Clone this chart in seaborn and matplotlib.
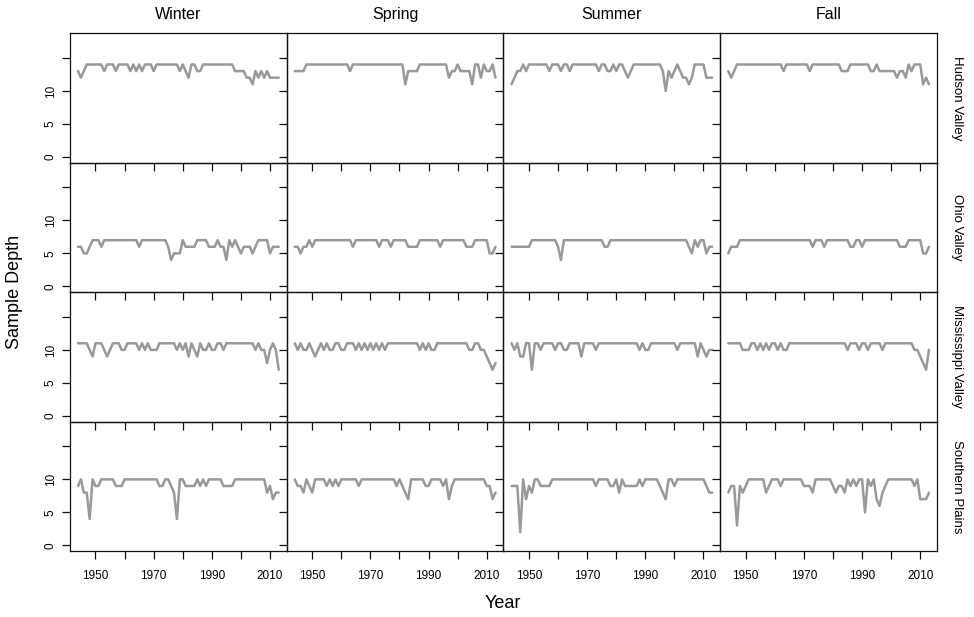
import numpy as np
import pandas as pd
import matplotlib
matplotlib.use("Agg")
import matplotlib.pyplot as plt
import seaborn as sns
from matplotlib import font_manager

# ---------------- data ----------------
years = list(range(1944, 2014))
seasons = ["Winter", "Spring", "Summer", "Fall"]
regions = ["Hudson Valley", "Ohio Valley", "Mississippi Valley", "Southern Plains"]

hv_winter = [13, 12, 13, 14, 14, 14,
             14, 14, 14, 13, 14, 14, 14, 13, 14, 14,
             14, 14, 13, 14, 13, 14, 13, 14, 14, 14,
             13, 14, 14, 14, 14, 14, 14, 14, 14, 13,
             14, 13, 12, 14, 14, 13, 13, 14, 14, 14,
             14, 14, 14, 14, 14, 14, 14, 14, 13, 13,
             13, 13, 12, 12, 11, 13, 12, 13, 12, 13,
             12, 12, 12, 12]
hv_spring = [13, 13, 13, 13, 14, 14,
             14, 14, 14, 14, 14, 14, 14, 14, 14, 14,
             14, 14, 14, 13, 14, 14, 14, 14, 14, 14,
             14, 14, 14, 14, 14, 14, 14, 14, 14, 14,
             14, 14, 11, 13, 13, 13, 13, 14, 14, 14,
             14, 14, 14, 14, 14, 14, 14, 12, 13, 13,
             14, 13, 13, 13, 13, 11, 14, 14, 12, 14,
             13, 13, 14, 12]
hv_summer = [11, 12, 13, 13, 14, 13,
             14, 14, 14, 14, 14, 14, 14, 13, 14, 14,
             14, 13, 14, 14, 13, 14, 14, 14, 14, 14,
             14, 14, 14, 14, 13, 14, 14, 13, 13, 14,
             13, 14, 14, 13, 12, 13, 14, 14, 14, 14,
             14, 14, 14, 14, 14, 14, 13, 10, 13, 12,
             13, 14, 13, 12, 12, 11, 12, 14, 14, 14,
             14, 12, 12, 12]
hv_fall = [13, 12, 13, 14, 14, 14,
           14, 14, 14, 14, 14, 14, 14, 14, 14, 14,
           14, 14, 14, 13, 14, 14, 14, 14, 14, 14,
           14, 14, 13, 14, 14, 14, 14, 14, 14, 14,
           14, 14, 14, 13, 13, 13, 14, 14, 14, 14,
           14, 14, 14, 13, 13, 14, 13, 13, 13, 13,
           13, 13, 12, 13, 13, 12, 14, 13, 14, 14,
           14, 11, 12, 11]

ov_winter = [6, 6, 5, 5, 6, 7,
             7, 7, 6, 7, 7, 7, 7, 7, 7, 7,
             7, 7, 7, 7, 7, 6, 7, 7, 7, 7,
             7, 7, 7, 7, 7, 6, 4, 5, 5, 5,
             7, 6, 6, 6, 6, 7, 7, 7, 7, 6,
             6, 6, 7, 6, 6, 4, 7, 6, 7, 6,
             5, 6, 6, 6, 5, 6, 7, 7, 7, 7,
             5, 6, 6, 6]
ov_spring = [6, 6, 5, 6, 6, 7,
             6, 7, 7, 7, 7, 7, 7, 7, 7, 7,
             7, 7, 7, 7, 6, 7, 7, 7, 7, 7,
             7, 7, 7, 6, 7, 7, 7, 6, 7, 7,
             7, 7, 7, 6, 6, 6, 6, 7, 7, 7,
             7, 7, 7, 7, 6, 7, 7, 7, 7, 7,
             7, 7, 7, 6, 6, 6, 7, 7, 7, 7,
             7, 5, 5, 6]
ov_summer = [6, 6, 6, 6, 6, 6,
             6, 7, 7, 7, 7, 7, 7, 7, 7, 7,
             6, 4, 7, 7, 7, 7, 7, 7, 7, 7,
             7, 7, 7, 7, 7, 7, 6, 6, 7, 7,
             7, 7, 7, 7, 7, 7, 7, 7, 7, 7,
             7, 7, 7, 7, 7, 7, 7, 7, 7, 7,
             7, 7, 7, 7, 7, 6, 5, 7, 6, 7,
             7, 5, 6, 6]
ov_fall = [5, 6, 6, 6, 7, 7,
           7, 7, 7, 7, 7, 7, 7, 7, 7, 7,
           7, 7, 7, 7, 7, 7, 7, 7, 7, 7,
           7, 7, 7, 6, 7, 7, 7, 6, 7, 7,
           7, 7, 7, 7, 7, 7, 6, 6, 7, 7,
           6, 7, 7, 7, 7, 7, 7, 7, 7, 7,
           7, 7, 7, 6, 6, 6, 7, 7, 7, 7,
           7, 5, 5, 6]

mv_winter = [11, 11, 11, 11, 10, 9,
             11, 11, 11, 10, 9, 10, 11, 11, 11, 10,
             10, 11, 11, 11, 11, 10, 11, 10, 11, 10,
             10, 10, 11, 11, 11, 11, 11, 11, 10, 11,
             10, 11, 9, 11, 10, 9, 11, 10, 10, 11,
             10, 10, 11, 11, 10, 11, 11, 11, 11, 11,
             11, 11, 11, 11, 11, 10, 11, 10, 10, 8,
             10, 11, 10, 7]
mv_spring = [11, 10, 11, 10, 10, 11,
             10, 9, 10, 11, 10, 11, 10, 10, 11, 11,
             10, 10, 11, 11, 11, 10, 11, 10, 11, 10,
             11, 10, 11, 10, 11, 10, 11, 11, 11, 11,
             11, 11, 11, 11, 11, 11, 11, 10, 11, 10,
             11, 10, 10, 11, 11, 11, 11, 11, 11, 11,
             11, 11, 11, 11, 10, 10, 11, 11, 10, 10,
             9, 8, 7, 8]
mv_summer = [11, 10, 11, 9, 9, 11,
             11, 7, 11, 11, 10, 11, 11, 11, 11, 10,
             11, 11, 10, 10, 11, 11, 11, 11, 9, 11,
             11, 11, 11, 10, 11, 11, 11, 11, 11, 11,
             11, 11, 11, 11, 11, 11, 11, 11, 10, 11,
             10, 10, 11, 11, 11, 11, 11, 11, 11, 11,
             11, 10, 11, 11, 11, 11, 11, 11, 9, 11,
             10, 9, 10, 10]
mv_fall = [11, 11, 11, 11, 11, 10,
           10, 10, 11, 11, 10, 11, 10, 11, 10, 11,
           11, 10, 11, 10, 10, 11, 11, 11, 11, 11,
           11, 11, 11, 11, 11, 11, 11, 11, 11, 11,
           11, 11, 11, 11, 11, 10, 11, 11, 11, 10,
           11, 11, 10, 11, 11, 11, 11, 10, 11, 11,
           11, 11, 11, 11, 11, 11, 11, 11, 10, 10,
           9, 8, 7, 10]

sp_winter = [9, 10, 8, 8, 4, 10,
             9, 9, 10, 10, 10, 10, 10, 9, 9, 9,
             10, 10, 10, 10, 10, 10, 10, 10, 10, 10,
             10, 10, 9, 9, 10, 10, 9, 8, 4, 10,
             10, 9, 9, 9, 9, 10, 9, 10, 9, 10,
             10, 10, 10, 10, 9, 9, 9, 9, 10, 10,
             10, 10, 10, 10, 10, 10, 10, 10, 10, 8,
             9, 7, 8, 8]
sp_spring = [10, 9, 9, 8, 10, 9,
             8, 10, 10, 10, 10, 9, 10, 9, 10, 9,
             10, 10, 10, 10, 10, 10, 9, 10, 10, 10,
             10, 10, 10, 10, 10, 10, 10, 10, 10, 9,
             10, 9, 8, 7, 10, 10, 10, 10, 10, 9,
             9, 10, 10, 10, 10, 9, 10, 7, 9, 10,
             10, 10, 10, 10, 10, 10, 10, 10, 10, 10,
             9, 9, 7, 8]
sp_summer = [9, 9, 9, 2, 10, 7,
             9, 8, 10, 10, 9, 9, 9, 9, 10, 10,
             10, 10, 10, 10, 10, 10, 10, 10, 10, 10,
             10, 10, 10, 9, 10, 10, 10, 10, 9, 9,
             10, 8, 10, 9, 9, 9, 9, 9, 10, 9,
             10, 10, 10, 10, 10, 9, 8, 7, 10, 10,
             9, 10, 10, 10, 10, 10, 10, 10, 10, 10,
             10, 9, 8, 8]
sp_fall = [8, 9, 9, 3, 9, 8,
           9, 10, 10, 10, 10, 10, 10, 8, 9, 10,
           10, 10, 9, 10, 10, 10, 10, 10, 10, 10,
           9, 9, 9, 8, 10, 10, 10, 10, 10, 10,
           9, 8, 9, 9, 8, 10, 9, 10, 9, 10,
           10, 5, 10, 9, 10, 7, 6, 8, 9, 10,
           10, 10, 10, 10, 10, 10, 10, 10, 9, 10,
           7, 7, 7, 8]

series = {
    ("Hudson Valley", "Winter"): hv_winter, ("Hudson Valley", "Spring"): hv_spring,
    ("Hudson Valley", "Summer"): hv_summer, ("Hudson Valley", "Fall"): hv_fall,
    ("Ohio Valley", "Winter"): ov_winter, ("Ohio Valley", "Spring"): ov_spring,
    ("Ohio Valley", "Summer"): ov_summer, ("Ohio Valley", "Fall"): ov_fall,
    ("Mississippi Valley", "Winter"): mv_winter, ("Mississippi Valley", "Spring"): mv_spring,
    ("Mississippi Valley", "Summer"): mv_summer, ("Mississippi Valley", "Fall"): mv_fall,
    ("Southern Plains", "Winter"): sp_winter, ("Southern Plains", "Spring"): sp_spring,
    ("Southern Plains", "Summer"): sp_summer, ("Southern Plains", "Fall"): sp_fall,
}

x_ticks = [1950, 1960, 1970, 1980, 1990, 2000, 2010]
x_ticklabels = ["1950", "", "1970", "", "1990", "", "2010"]
y_ticks = [0, 5, 10, 15]
y_ticklabels = ["0", "5", "10", ""]

rows = []
for (reg, sea), vals in series.items():
    assert len(vals) == len(years), (reg, sea, len(vals))
    for yr, v in zip(years, vals):
        rows.append({"Year": yr, "Depth": v, "Region": reg, "Season": sea})
df = pd.DataFrame(rows)

# ---------------- style ----------------
sns.set_style("ticks")
names = {f.name for f in font_manager.fontManager.ttflist}
base = "Liberation Sans" if "Liberation Sans" in names else "DejaVu Sans"
narrow = "Liberation Sans Narrow" if "Liberation Sans Narrow" in names else base
plt.rcParams["font.family"] = [base, "DejaVu Sans"]
plt.rcParams["text.color"] = "black"
plt.rcParams["axes.labelcolor"] = "black"
plt.rcParams["xtick.color"] = "black"
plt.rcParams["ytick.color"] = "black"

g = sns.relplot(data=df, x="Year", y="Depth", row="Region", col="Season",
                row_order=regions, col_order=seasons, kind="line",
                color="#999999", linewidth=1.8, height=1.5, aspect=1.6,
                facet_kws=dict(sharex=True, sharey=True, despine=False))
fig = g.figure
fig.set_size_inches(9.74, 6.17)
fig.subplots_adjust(left=70 / 974, right=937 / 974, top=1 - 33 / 617,
                    bottom=1 - 551 / 617, wspace=0, hspace=0)

g.set_titles("")
g.set_axis_labels("", "")
tick_font = dict(family=[narrow, base], size=8.5, color="black")
for i, reg in enumerate(regions):
    for j, sea in enumerate(seasons):
        ax = g.axes[i, j]
        ax.patch.set_visible(False)
        ax.set_xlim(1941.24, 2015.76)
        ax.set_ylim(-0.85, 18.77)
        for s in ax.spines.values():
            s.set_color("#111111")
            s.set_linewidth(0.9)
        ax.set_xticks(x_ticks)
        ax.set_yticks(y_ticks)
        ax.tick_params(axis="both", direction="out", length=5.5, width=0.9,
                       color="#111111", labelcolor="black", top=False, right=False)
        ax.tick_params(axis="x", pad=8)
        ax.tick_params(axis="y", pad=4)
        if i == len(regions) - 1:
            ax.set_xticklabels(x_ticklabels, fontdict=tick_font)
            ax.tick_params(axis="x", labelbottom=True)
        else:
            ax.tick_params(axis="x", labelbottom=False)
        if j == 0:
            ax.set_yticklabels(y_ticklabels, fontdict=tick_font, rotation=90, va="center")
            ax.tick_params(axis="y", labelleft=True)
        else:
            ax.tick_params(axis="y", labelleft=False)
        if i == 0:
            ax.text(0.5, 1 + 19 / 130, sea, transform=ax.transAxes, ha="center",
                    va="center", fontsize=11.5, family=[narrow, base], color="black")
        if j == len(seasons) - 1:
            ax.text(1 + 20 / 217, 0.5, reg, transform=ax.transAxes, ha="center",
                    va="center", rotation=-90, fontsize=9.5, family=[narrow, base],
                    color="black")

fig.text(15 / 974, 1 - 292 / 617, "Sample Depth", rotation=90, ha="center",
         va="center", fontsize=13, family=[narrow, base], color="black")
fig.text(503 / 974, 1 - 603 / 617, "Year", ha="center", va="center",
         fontsize=13, family=[narrow, base], color="black")

fig.savefig("out.png", dpi=100, facecolor="white")
